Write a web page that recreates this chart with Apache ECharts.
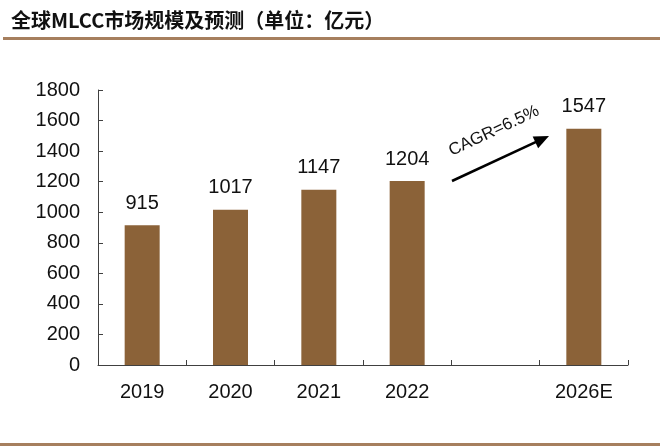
<!DOCTYPE html>
<html><head><meta charset="utf-8">
<script src="https://cdn.jsdelivr.net/npm/echarts@6/dist/echarts.min.js"></script>
<style>html,body{margin:0;padding:0;background:#fff}#c{width:660px;height:447px}</style>
</head><body><div id="c"></div>
<script>
const categories = ['2019', '2020', '2021', '2022', '', '2026E'];
const values = [915, 1017, 1147, 1204, null, 1547];
const yTicks = { min: 0, max: 1800, interval: 200 };
const titleText = '全球MLCC市场规模及预测（单位：亿元）';
const cagrText = 'CAGR=6.5%';

const chart = echarts.init(document.getElementById('c'), null, { renderer: 'canvas' });
const axisColor = '#404040';

// arrow annotation geometry
const a0 = [452, 181], a1 = [549, 136];
const dx = a1[0] - a0[0], dy = a1[1] - a0[1], len = Math.hypot(dx, dy);
const ux = dx / len, uy = dy / len, px = -uy, py = ux;
const headL = 15, headW = 6.5;
const bx = a1[0] - ux * headL, by = a1[1] - uy * headL;

const option = {
  animation: false,
  backgroundColor: '#fff',
  title: {
    text: titleText, left: 6, top: 5,
    textStyle: { fontFamily: 'Noto Sans CJK SC', fontWeight: 'bold', fontSize: 20, color: '#111' }
  },
  grid: { left: 98, right: 32, top: 90, bottom: 82 },
  xAxis: {
    type: 'category', data: categories,
    axisLine: { lineStyle: { color: axisColor, width: 1 } },
    axisTick: { show: true, inside: true, length: 5, alignWithLabel: false, lineStyle: { color: axisColor } },
    axisLabel: { margin: 17, fontFamily: 'Liberation Sans', fontSize: 20, color: '#111' }
  },
  yAxis: {
    type: 'value', min: yTicks.min, max: yTicks.max, interval: yTicks.interval,
    splitLine: { show: false },
    axisLine: { show: true, lineStyle: { color: axisColor, width: 1 } },
    axisTick: { show: true, inside: true, length: 5, lineStyle: { color: axisColor } },
    axisLabel: { margin: 18, fontFamily: 'Liberation Sans', fontSize: 20, color: '#111', formatter: v => String(v) }
  },
  series: [{
    type: 'bar', data: values, barWidth: 35,
    itemStyle: { color: '#8B6238' },
    label: { show: true, position: 'top', distance: 12, fontFamily: 'Liberation Sans', fontSize: 20, color: '#111' }
  }],
  graphic: [
    { type: 'rect', shape: { x: 3, y: 37, width: 657, height: 3 }, style: { fill: '#A67F5E' } },
    { type: 'rect', shape: { x: 0, y: 443, width: 660, height: 3 }, style: { fill: '#A67F5E' } },
    { type: 'line', z: 100, shape: { x1: a0[0], y1: a0[1], x2: bx + ux * 2, y2: by + uy * 2 }, style: { stroke: '#000', lineWidth: 2.5 } },
    { type: 'polygon', z: 100, shape: { points: [[a1[0], a1[1]], [bx + px * headW, by + py * headW], [bx - px * headW, by - py * headW]] }, style: { fill: '#000' } },
    { type: 'text', z: 100, x: 494, y: 131, rotation: 0.44,
      style: { text: cagrText, fontFamily: 'Liberation Sans', fontSize: 17, fill: '#111', align: 'center', verticalAlign: 'middle' } }
  ]
};
chart.setOption(option);
</script></body></html>
